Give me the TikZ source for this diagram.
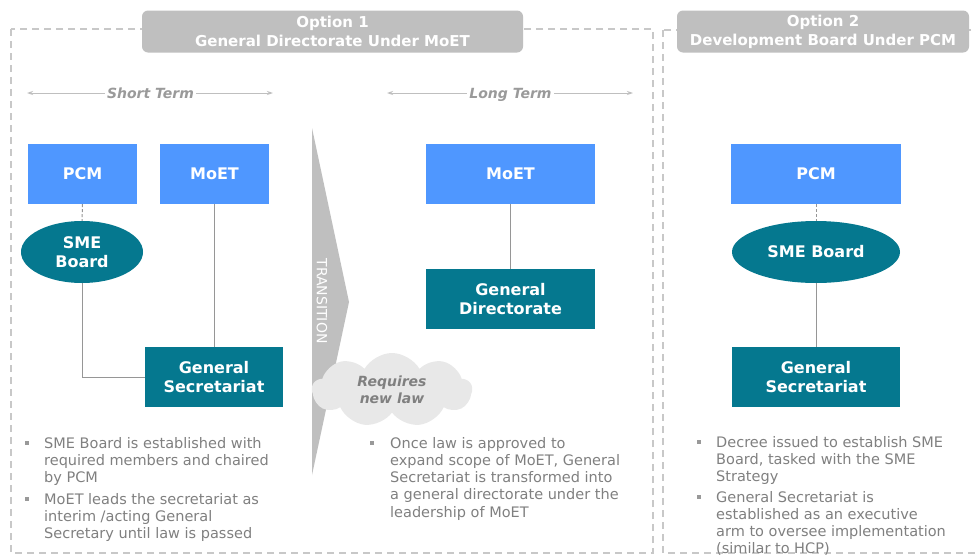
\documentclass[tikz,border=0pt]{standalone}
\usepackage{fontspec}
\setmainfont{DejaVu Sans}
\usetikzlibrary{arrows.meta,positioning,shapes.geometric,shapes.symbols}
\definecolor{hdrgray}{RGB}{191,191,191}
\definecolor{dashgray}{RGB}{200,200,200}
\definecolor{txtgray}{RGB}{128,128,128}
\definecolor{linegray}{RGB}{150,150,150}
\definecolor{cloudgray}{RGB}{232,232,232}
\definecolor{blueunit}{RGB}{79,151,255}
\definecolor{tealunit}{RGB}{5,120,143}
\newcommand{\boxfont}{\fontsize{16}{19}\selectfont\bfseries}
\newcommand{\bulfont}{\fontsize{14.5}{17.2}\selectfont}

\begin{document}
\begin{tikzpicture}[x=1pt, y=-1pt,
  frame/.style={draw=dashgray, line width=1.5pt, dash pattern=on 7pt off 5pt},
  header/.style={fill=hdrgray, rounded corners=6pt, text=white, font=\fontsize{15}{19}\selectfont\bfseries, align=center, inner sep=0pt},
  term/.style={fill=white, text=txtgray!80, font=\fontsize{14}{17}\selectfont\bfseries\itshape, inner sep=2pt, text height=10pt, text depth=3pt},
  span/.style={{Stealth[length=6pt,width=4pt]}-{Stealth[length=6pt,width=4pt]}, draw=hdrgray, line width=1pt},
  unit/.style={fill=blueunit, text=white, font=\boxfont, align=center, inner sep=0pt, minimum height=60pt},
  sec/.style={fill=tealunit, text=white, font=\boxfont, align=center, inner sep=0pt, minimum height=60pt},
  oval/.style={ellipse, fill=tealunit, text=white, font=\boxfont, align=center, inner sep=0pt, minimum height=62pt},
  link/.style={draw=linegray, line width=1pt},
  dlink/.style={link, dash pattern=on 3pt off 2pt},
  bul/.style={text=txtgray, font=\bulfont, align=left, anchor=north west, inner sep=0pt},
  sq/.style={fill=hdrgray!80!black, minimum size=4.5pt, inner sep=0pt}
]
\useasboundingbox[fill=white] (0,0) rectangle (975,557);

% frames and headers
\draw[frame] (11,29) rectangle (653,553);
\draw[frame] (663,30) rectangle (990,553);
\node[header, minimum width=381pt, minimum height=42pt] (opt1) at (332.5,31.5) {Option 1\\General Directorate Under MoET};
\node[header, minimum width=292pt, minimum height=42pt] (opt2) at (823,31.5) {Option 2\\Development Board Under PCM};

% time spans
\coordinate (st-l) at (27,93);
\coordinate (st-r) at (273,93);
\draw[span] (st-l) -- (st-r);
\node[term] (st) at (150.5,94.5) {Short Term};
\coordinate (lt-l) at (387,93);
\coordinate (lt-r) at (633,93);
\draw[span] (lt-l) -- (lt-r);
\node[term] (lt) at (510.5,94.5) {Long Term};

% short term
\node[unit, minimum width=109pt] (pcm1) at (82.5,174) {PCM};
\node[unit, minimum width=109pt] (moet1) at (214.5,174) {MoET};
\node[oval, minimum width=122pt] (sme1) at (82,252) {SME\\Board};
\node[sec, minimum width=138pt] (gs1) at (214,377) {General\\Secretariat};
\draw[dlink] (pcm1.south) -- (sme1.north);
\draw[link] (sme1.south) |- (gs1.west);
\draw[link] (moet1.south) -- (moet1.south |- gs1.north);

% transition
\fill[hdrgray] (312,128) -- (349,302) -- (312,475) -- cycle;
\node[text=white, font=\fontsize{14}{17}\selectfont, rotate=-90, inner sep=0pt] (trans) at (322,301) {TRANSITION};
\node[cloud, fill=cloudgray, cloud puffs=9, cloud puff arc=120, aspect=2.2, minimum width=160pt, minimum height=74pt, inner sep=0pt, text=txtgray, font=\fontsize{14}{17}\selectfont\bfseries\itshape, align=center] (law) at (392,390) {Requires\\new law};

% long term
\node[unit, minimum width=169pt] (moet2) at (510.5,174) {MoET};
\node[sec, minimum width=169pt] (gd) at (510.5,299) {General\\Directorate};
\draw[link] (moet2) -- (gd);

% option 2
\node[unit, minimum width=170pt] (pcm2) at (816,174) {PCM};
\node[oval, minimum width=168pt] (sme2) at (816,252) {SME Board};
\node[sec, minimum width=168pt] (gs2) at (816,377) {General\\Secretariat};
\draw[dlink] (pcm2) -- (sme2);
\draw[link] (sme2) -- (gs2);

% notes
\node[sq] (q1) at (27,443) {};
\node[bul] (n1) at (44,437) {SME Board is established with\\required members and chaired\\by PCM};
\node[sq] (q2) at (27,499) {};
\node[bul] (n2) at (44,493) {MoET leads the secretariat as\\interim /acting General\\Secretary until law is passed};
\node[sq] (q3) at (372,443) {};
\node[bul] (n3) at (390,437) {Once law is approved to\\expand scope of MoET, General\\Secretariat is transformed into\\a general directorate under the\\leadership of MoET};
\node[sq] (q4) at (699,442) {};
\node[bul] (n4) at (716,436) {Decree issued to establish SME\\Board, tasked with the SME\\Strategy};
\node[sq] (q5) at (699,497) {};
\node[bul] (n5) at (716,491) {General Secretariat is\\established as an executive\\arm to oversee implementation\\(similar to HCP)};
\end{tikzpicture}
\end{document}
